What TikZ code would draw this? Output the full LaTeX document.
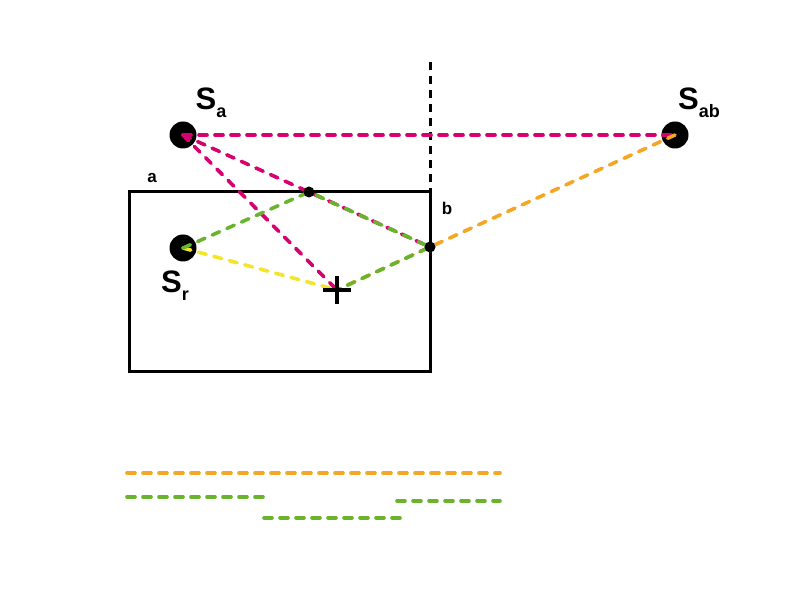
\documentclass[tikz,border=0pt]{standalone}
\usepackage{fontspec}
\setmainfont{Liberation Sans}
\usetikzlibrary{positioning}

\definecolor{pathmag}{HTML}{D6006E}
\definecolor{pathorange}{HTML}{F5A623}
\definecolor{pathgreen}{HTML}{6AB42D}
\definecolor{pathyellow}{HTML}{F2E52A}

\begin{document}
\begin{tikzpicture}[x=1pt,y=-1pt,
      source/.style={circle,fill=black,inner sep=0pt,minimum size=27pt},
      hit/.style={circle,fill=black,inner sep=0pt,minimum size=11pt},
      ray/.style={line width=3.6pt,line cap=round,dash pattern=on 8pt off 8pt},
      wall/.style={line width=3pt},
      lbl/.style={font=\fontsize{31}{31}\bfseries\selectfont},
      small/.style={font=\fontsize{17}{17}\bfseries\selectfont},
    ]
      \useasboundingbox (0,0) rectangle (801,601);
      % room and mirror plane
      \draw[wall] (129,192) rectangle (430,372);
      \draw[line width=3pt,dash pattern=on 8pt off 6pt] (430,62) -- (430,192);
      \node[small] (wa) at (152,178) {a};
      \node[small] (wb) at (447,208) {b};
      % sources, reflection points and receiver
      \node[source] (sa) at (183,135) {};
      \node[source] (sab) at (675,135) {};
      \node[source] (sr) at (183,248) {};
      \coordinate (ra) at (309,192);
      \coordinate (rb) at (430,247);
      \coordinate (rx) at (337,290);
      \node[lbl] (lsa) at (211,103) {S\raisebox{-8pt}{\fontsize{18}{18}\selectfont a}};
      \node[lbl] (lsab) at (699,103) {S\raisebox{-8pt}{\fontsize{18}{18}\selectfont ab}};
      \node[lbl] (lsr) at (175,286) {S\raisebox{-8pt}{\fontsize{18}{18}\selectfont r}};
      % rays
      \draw[ray,pathmag] (sa.center) -- (sab.center);
      \draw[ray,pathmag] (sa.center) -- (rx);
      \draw[ray,pathmag] (sa.center) -- (ra) -- (rb);
      \draw[ray,pathyellow] (sr.center) -- (rx);
      \draw[ray,pathorange] (sab.center) -- (rb) -- (rx);
      \draw[ray,pathgreen] (sr.center) -- (ra);
      \draw[ray,pathgreen,dash phase=8pt] (ra) -- (rb) -- (rx);
      \node[hit] (pa) at (ra) {};
      \node[hit] (pb) at (rb) {};
      \draw[line width=4.5pt] (323,290) -- (351,290) (337,276) -- (337,304);
      % path lengths
      \coordinate (o1) at (127,473);
      \coordinate (o2) at (500,473);
      \coordinate (g1) at (127,497);
      \coordinate (g2) at (267,497);
      \coordinate (g3) at (264,518);
      \coordinate (g4) at (400,518);
      \coordinate (g5) at (397,501);
      \coordinate (g6) at (500,501);
      \draw[ray,pathorange] (o1) -- (o2);
      \draw[ray,pathgreen] (g1) -- (g2);
      \draw[ray,pathgreen] (g3) -- (g4);
      \draw[ray,pathgreen] (g5) -- (g6);
\end{tikzpicture}
\end{document}
